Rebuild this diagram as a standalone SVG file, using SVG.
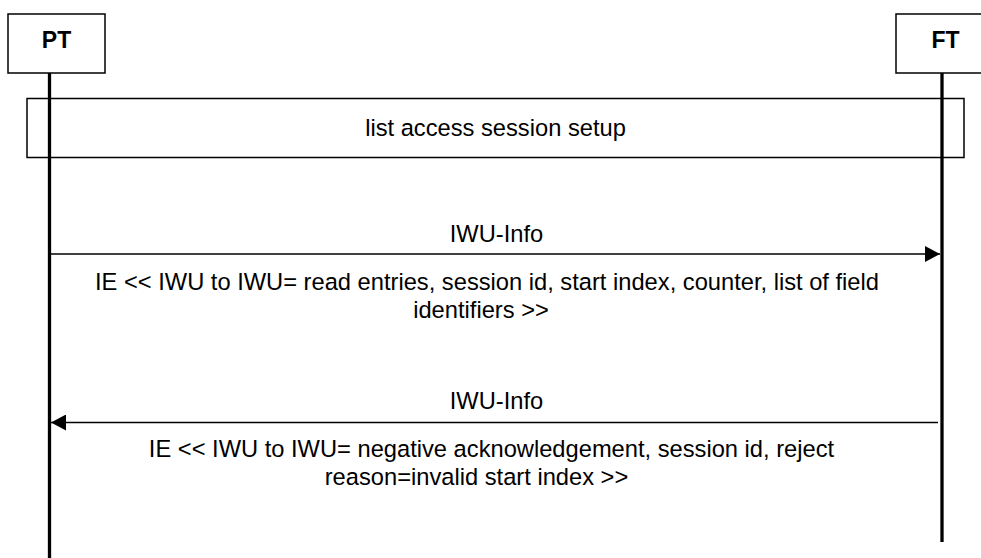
<svg xmlns="http://www.w3.org/2000/svg" width="981" height="558" viewBox="0 0 981 558">
<style>
.t{font-family:"Liberation Sans",Arial,sans-serif;font-size:23.7px;fill:#000;text-anchor:middle}
.b{font-family:"Liberation Sans",Arial,sans-serif;font-size:23px;font-weight:bold;fill:#000;text-anchor:middle}
.box{fill:#fff;stroke:#000;stroke-width:1.5}
.life{stroke:#000;stroke-width:3.3;fill:none}
.msg{stroke:#000;stroke-width:1.5;fill:none}
</style>
<defs>
<marker id="ah" viewBox="0 0 15 16" refX="15" refY="8" markerWidth="15" markerHeight="16" markerUnits="userSpaceOnUse" orient="auto">
<path d="M0,0 L15,8 L0,16 Z" fill="#000"/>
</marker>
</defs>
<rect width="981" height="558" fill="#fff"/>
<g id="PT">
<rect class="box" x="8" y="14" width="97" height="59"/>
<text class="b" x="56.5" y="48">PT</text>
</g>
<g id="FT">
<rect class="box" x="896" y="14" width="99" height="59"/>
<text class="b" x="945.5" y="48">FT</text>
</g>
<g id="session">
<rect x="27" y="98.5" width="937" height="59" fill="none" stroke="#000" stroke-width="1.5"/>
<text class="t" x="495.5" y="136">list access session setup</text>
</g>
<g id="lifelines">
<line class="life" x1="49.5" y1="73" x2="49.5" y2="558"/>
<line class="life" x1="942" y1="73" x2="942" y2="542"/>
</g>
<g id="connectors">
<line class="msg" x1="51" y1="254" x2="940" y2="254" marker-end="url(#ah)"/>
<text class="t" x="496.5" y="242">IWU-Info</text>
<text class="t" x="487" y="290">IE &lt;&lt; IWU to IWU= read entries, session id, start index, counter, list of field</text>
<text class="t" x="481" y="318">identifiers &gt;&gt;</text>
<line class="msg" x1="938" y1="422.5" x2="51" y2="422.5" marker-end="url(#ah)"/>
<text class="t" x="496.5" y="409">IWU-Info</text>
<text class="t" x="491.5" y="457">IE &lt;&lt; IWU to IWU= negative acknowledgement, session id, reject</text>
<text class="t" x="476.5" y="485">reason=invalid start index &gt;&gt;</text>
</g>
</svg>
